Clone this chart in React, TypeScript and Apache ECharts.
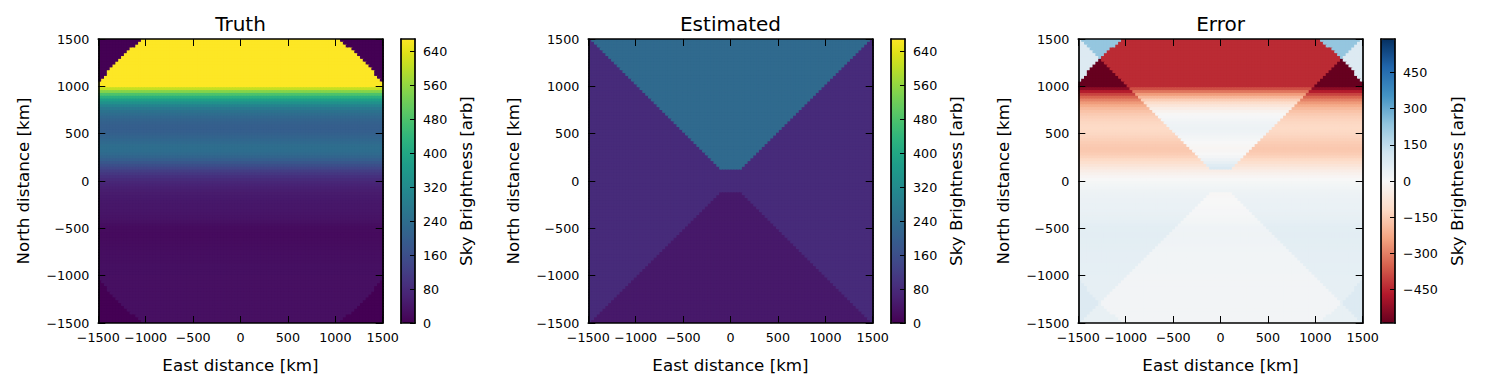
import React, { useEffect, useRef } from "react";
import * as echarts from "echarts";

// ---------------- data ----------------
const GRID_N = 100; // cells per side
const CELL_KM = 30; // cell size
const EXTENT_KM = 1500;
const AXIS_MIN = -1500;
const AXIS_MAX = 1500;
const AXIS_STEP = 500;

// Truth: sky brightness read per row, from north (1485 km) to south (-1485 km)
const truthRows = [
  670, 670, 670, 670, 670, 670, 670, 670, 670, 670, 670, 670, 670, 670, 670, 670, 670,
  610, 545, 480, 425, 375, 335, 300, 272, 252, 236,
  224, 214, 207, 202, 200, 202, 207, 214, 222, 230,
  236, 240, 238, 230, 217, 200, 180, 160, 140, 122,
  106, 93, 82, 73, 66, 60, 55, 51, 48, 46,
  44, 42, 41, 40, 38, 36, 33, 29, 24, 21,
  20, 19, 19, 20, 21, 22, 23, 24, 25, 26,
  26, 26, 27, 27, 27, 27, 28, 28, 28, 28,
  28, 28, 28, 28, 28, 28, 28, 28, 28, 28,
  28, 28, 28,
];
const truthFieldRadiusKm = 1815; // outside this radius the truth is empty
const truthOutsideValue = 0;

// Estimated: three sectors
const estNorthValue = 230;
const estSideValue = 82;
const estSouthValue = 45;
const estNorthNeckKm = 120;
const estSouthNeckKm = -120;

// colour ranges / ticks
const brightnessMax = 670;
const brightnessTicks = [0, 80, 160, 240, 320, 400, 480, 560, 640];
const errorMax = 588;
const errorTicks = [-450, -300, -150, 0, 150, 300, 450];

const titles = ["Truth", "Estimated", "Error"];
const xName = "East distance [km]";
const yName = "North distance [km]";
const cbarName = "Sky Brightness [arb]";

const VIRIDIS = [
  "#440154", "#471365", "#482475", "#463480", "#414487", "#3b528b", "#355f8d",
  "#2f6c8e", "#2a788e", "#25848e", "#21918c", "#1e9c89", "#22a884", "#2fb47c",
  "#44bf70", "#5ec962", "#7ad151", "#9bd93c", "#bddf26", "#dfe318", "#fde725",
];
const RDBU = [
  "#67001f", "#b2182b", "#d6604d", "#f4a582", "#fddbc7", "#f7f7f7",
  "#d1e5f0", "#92c5de", "#4393c3", "#2166ac", "#053061",
];

// ---------------- build tables ----------------
const centers = Array.from({ length: GRID_N }, (_, i) => -EXTENT_KM + CELL_KM / 2 + i * CELL_KM);

const truthData: number[][] = [];
const estData: number[][] = [];
const errData: number[][] = [];
for (let r = 0; r < GRID_N; r++) {
  const y = centers[GRID_N - 1 - r];
  for (let c = 0; c < GRID_N; c++) {
    const x = centers[c];
    const t = x * x + y * y <= truthFieldRadiusKm * truthFieldRadiusKm ? truthRows[r] : truthOutsideValue;
    let e = estSideValue;
    if (y > Math.abs(x) && y >= estNorthNeckKm) e = estNorthValue;
    else if (-y > Math.abs(x) && y <= estSouthNeckKm) e = estSouthValue;
    truthData.push([x, y, t]);
    estData.push([x, y, e]);
    errData.push([x, y, e - t]);
  }
}

// ---------------- layout ----------------
const FONT = "DejaVu Sans";
const PLOT_LEFT = 98.3;
const PANEL_STEP = 490;
const PLOT_TOP = 39;
const PLOT_W = 284.4;
const PLOT_H = 284;
const CBAR_LEFT = 401;
const CBAR_W = 14;
const CBAR_NAME_GAPS = [42, 42, 53];

const fmt = (v: number) => (v < 0 ? "\u2212" + Math.abs(v) : String(v));
const frameLine = { color: "#000", width: 1.7 };
const tickLine = { color: "#000", width: 1 };
const labelStyle = { fontSize: 12.7, color: "#000", fontFamily: FONT };
const nameStyle = { fontSize: 16.7, color: "#000", fontFamily: FONT };

export default function App() {
  const ref = useRef<HTMLDivElement>(null);
  useEffect(() => {
    document.body.style.margin = "0";
    const chart = echarts.init(ref.current!, null, { renderer: "svg", width: 1485, height: 389 });

    const grids: any[] = [];
    const xAxes: any[] = [];
    const yAxes: any[] = [];
    const series: any[] = [];
    const visualMaps: any[] = [];
    const titleOpts: any[] = [];
    const datasets = [truthData, estData, errData];

    for (let p = 0; p < 3; p++) {
      const dx = p * PANEL_STEP;
      const gMain = 2 * p;
      const gBar = 2 * p + 1;
      grids.push({ left: PLOT_LEFT + dx, top: PLOT_TOP, width: PLOT_W, height: PLOT_H, containLabel: false });
      grids.push({ left: CBAR_LEFT + dx, top: PLOT_TOP, width: CBAR_W, height: PLOT_H, containLabel: false });

      titleOpts.push({
        text: titles[p], left: PLOT_LEFT + dx + PLOT_W / 2, top: 14, textAlign: "center", padding: 0,
        textStyle: { fontSize: 20, fontWeight: "normal", color: "#000", fontFamily: FONT },
      });

      const mainAxisCommon = {
        type: "value", gridIndex: gMain, min: AXIS_MIN, max: AXIS_MAX, interval: AXIS_STEP,
        axisLine: { show: true, onZero: false, lineStyle: frameLine },
        axisTick: { show: true, inside: true, length: 7, lineStyle: tickLine },
        splitLine: { show: false }, z: 10,
      };
      xAxes.push({
        ...mainAxisCommon, position: "bottom",
        axisLabel: { ...labelStyle, margin: 8, formatter: fmt },
        name: xName, nameLocation: "middle", nameGap: 33, nameTextStyle: nameStyle,
      });
      xAxes.push({ ...mainAxisCommon, position: "top", axisLabel: { show: false } });
      yAxes.push({
        ...mainAxisCommon, position: "left",
        axisLabel: { ...labelStyle, margin: 9, formatter: fmt },
        name: yName, nameLocation: "middle", nameGap: 67, nameTextStyle: nameStyle,
      });
      yAxes.push({ ...mainAxisCommon, position: "right", axisLabel: { show: false } });

      // colour bar frame / axis
      const barX = {
        type: "value", gridIndex: gBar, min: 0, max: 1,
        axisLine: { show: true, onZero: false, lineStyle: frameLine },
        axisTick: { show: false }, axisLabel: { show: false }, splitLine: { show: false }, z: 10,
      };
      xAxes.push({ ...barX, position: "bottom" });
      xAxes.push({ ...barX, position: "top" });
      const isErr = p === 2;
      const barMin = isErr ? -errorMax : 0;
      const barMax = isErr ? errorMax : brightnessMax;
      const ticks = isErr ? errorTicks : brightnessTicks;
      yAxes.push({
        type: "value", gridIndex: gBar, min: barMin, max: barMax, position: "left",
        axisLine: { show: true, onZero: false, lineStyle: frameLine },
        axisTick: { show: false }, axisLabel: { show: false }, splitLine: { show: false }, z: 10,
      });
      yAxes.push({
        type: "value", gridIndex: gBar, min: barMin, max: barMax, position: "right",
        axisLine: { show: true, onZero: false, lineStyle: frameLine },
        axisTick: { show: true, inside: true, length: 5, lineStyle: tickLine, customValues: ticks },
        axisLabel: { ...labelStyle, margin: 8, formatter: fmt, customValues: ticks },
        splitLine: { show: false },
        name: cbarName, nameLocation: "middle", nameGap: CBAR_NAME_GAPS[p], nameTextStyle: nameStyle, z: 10,
      });

      const xi = 4 * p; // bottom x axis of main grid
      const yi = 4 * p; // left y axis of main grid
      series.push({
        type: "custom",
        xAxisIndex: xi,
        yAxisIndex: yi,
        data: datasets[p],
        progressive: 0,
        clip: true,
        silent: true,
        encode: { x: 0, y: 1 },
        renderItem: (params: any, api: any) => {
          const x = api.value(0);
          const y = api.value(1);
          const a = api.coord([x - CELL_KM / 2, y + CELL_KM / 2]);
          const b = api.coord([x + CELL_KM / 2, y - CELL_KM / 2]);
          return {
            type: "rect",
            shape: { x: a[0], y: a[1], width: b[0] - a[0] + 1, height: b[1] - a[1] + 1 },
            style: { fill: api.visual("color") },
          };
        },
      });

      visualMaps.push({
        type: "continuous",
        seriesIndex: p,
        dimension: 2,
        min: barMin,
        max: barMax,
        orient: "vertical",
        left: CBAR_LEFT + dx,
        top: PLOT_TOP,
        itemWidth: CBAR_W,
        itemHeight: PLOT_H,
        padding: 0,
        calculable: false,
        hoverLink: false,
        text: null,
        inRange: { color: isErr ? RDBU : VIRIDIS },
      });
    }

    chart.setOption({
      animation: false,
      backgroundColor: "#fff",
      textStyle: { fontFamily: FONT },
      title: titleOpts,
      grid: grids,
      xAxis: xAxes,
      yAxis: yAxes,
      visualMap: visualMaps,
      series,
    });
    return () => chart.dispose();
  }, []);
  return <div ref={ref} style={{ width: 1485, height: 389, position: "absolute", left: 0, top: 0 }} />;
}
